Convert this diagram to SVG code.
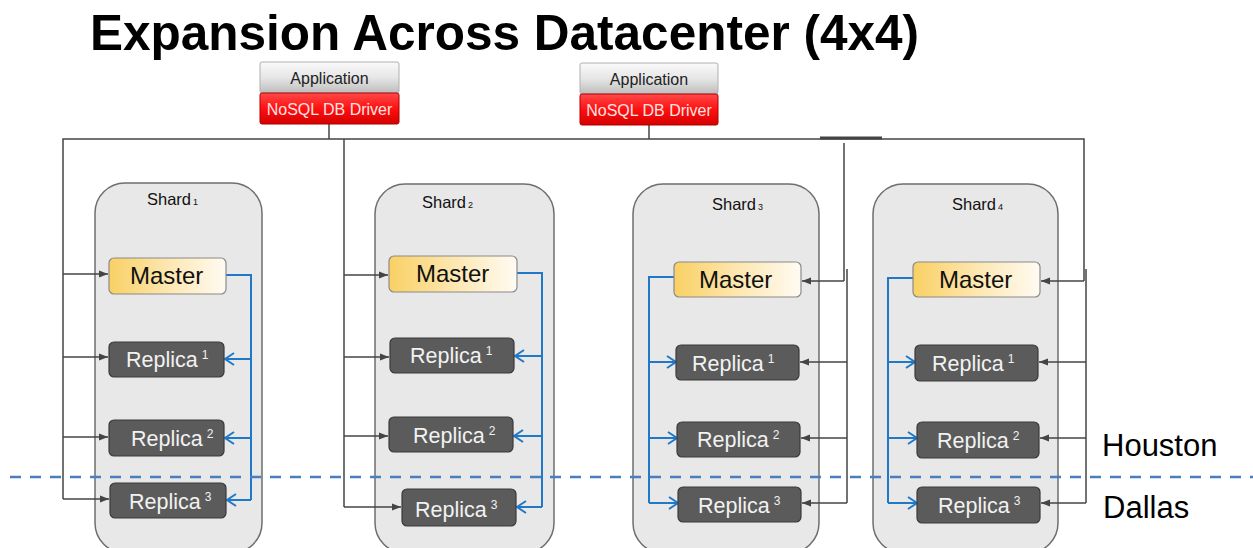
<svg xmlns="http://www.w3.org/2000/svg" width="1253" height="548" viewBox="0 0 1253 548">
<defs>
<linearGradient id="gApp" x1="0" y1="0" x2="0" y2="1">
<stop offset="0" stop-color="#fafafa"/><stop offset="0.5" stop-color="#e6e6e6"/><stop offset="1" stop-color="#bdbdbd"/>
</linearGradient>
<linearGradient id="gRed" x1="0" y1="0" x2="0" y2="1">
<stop offset="0" stop-color="#ff4a4a"/><stop offset="0.5" stop-color="#ff1010"/><stop offset="1" stop-color="#d40000"/>
</linearGradient>
<linearGradient id="gMaster" x1="0" y1="0" x2="1" y2="0">
<stop offset="0" stop-color="#f9d064"/><stop offset="0.5" stop-color="#fde7b0"/><stop offset="1" stop-color="#fffbf3"/>
</linearGradient>
<marker id="ag" markerUnits="userSpaceOnUse" markerWidth="10" markerHeight="10" viewBox="0 0 10 10" refX="9" refY="5" orient="auto">
<path d="M0,1.5 L9,5 L0,8.5 Z" fill="#444"/>
</marker>
<marker id="ab" markerUnits="userSpaceOnUse" markerWidth="14" markerHeight="16" viewBox="0 0 14 16" refX="12" refY="8" orient="auto">
<path d="M3,2 L12,8 L3,14" fill="none" stroke="#1f78c8" stroke-width="2"/>
</marker>
</defs>
<style>
.title{font-family:"Liberation Sans",Arial,sans-serif;font-weight:bold;font-size:49.5px;fill:#000}
.shardbox{fill:#e8e8e8;stroke:#6e6e6e;stroke-width:1.5}
.shardlbl{font-family:"Liberation Sans",Arial,sans-serif;font-size:16.5px;fill:#111}
.sub{font-size:9px}
.master{fill:url(#gMaster);stroke:#8a8a8a;stroke-width:1.2}
.mtext{font-family:"Liberation Sans",Arial,sans-serif;font-size:24px;fill:#111}
.replica{fill:#5b5b5b;stroke:#3a3a3a;stroke-width:1.2}
.rtext{font-family:"Liberation Sans",Arial,sans-serif;font-size:21.5px;fill:#f2f2f2}
.sup{font-size:12px}
.app{fill:url(#gApp);stroke:#b0b0b0;stroke-width:1}
.red{fill:url(#gRed);stroke:#b00000;stroke-width:1}
.atext{font-family:"Liberation Sans",Arial,sans-serif;font-size:16px;fill:#222;text-anchor:middle}
.dtext{font-family:"Liberation Sans",Arial,sans-serif;font-size:16px;fill:#ffe4e4;text-anchor:middle}
.gl{fill:none;stroke:#444;stroke-width:1.5}
.ga{fill:none;stroke:#444;stroke-width:1.5;marker-end:url(#ag)}
.bl{fill:none;stroke:#1f78c8;stroke-width:2}
.ba{fill:none;stroke:#1f78c8;stroke-width:2;marker-end:url(#ab)}
.city{font-family:"Liberation Sans",Arial,sans-serif;font-size:31px;fill:#000}
</style>
<rect width="1253" height="548" fill="#fff"/>
<text class="title" x="90" y="50">Expansion Across Datacenter (4x4)</text>

<g id="shard1">
<rect class="shardbox" x="95" y="183" width="167" height="370" rx="30"/>
<text class="shardlbl" x="147" y="205">Shard<tspan class="sub" dx="2">1</tspan></text>
</g>
<g id="shard2">
<rect class="shardbox" x="375" y="184" width="179" height="369" rx="30"/>
<text class="shardlbl" x="422" y="208">Shard<tspan class="sub" dx="2">2</tspan></text>
</g>
<g id="shard3">
<rect class="shardbox" x="633" y="184" width="186" height="369" rx="30"/>
<text class="shardlbl" x="712" y="210">Shard<tspan class="sub" dx="2">3</tspan></text>
</g>
<g id="shard4">
<rect class="shardbox" x="873" y="184" width="185" height="369" rx="30"/>
<text class="shardlbl" x="952" y="210">Shard<tspan class="sub" dx="2">4</tspan></text>
</g>

<g id="connectors">
<path class="gl" d="M63,499 V139 H1084 V281"/>
<path d="M820,138 H882" stroke="#444" stroke-width="3"/>
<path class="gl" d="M329,124 V139"/>
<path class="gl" d="M649,125 V139"/>
<path class="ga" d="M63,274 H108"/>
<path class="ga" d="M63,357 H108"/>
<path class="ga" d="M63,437 H108"/>
<path class="ga" d="M63,499 H109"/>
<path class="gl" d="M344,139 V507"/>
<path class="ga" d="M344,275 H388"/>
<path class="ga" d="M344,357 H389"/>
<path class="ga" d="M344,436 H388"/>
<path class="ga" d="M344,507 H401"/>
<path class="gl" d="M844,143 V281"/>
<path class="gl" d="M847,269 V503"/>
<path class="ga" d="M844,281 H802"/>
<path class="ga" d="M847,362 H800"/>
<path class="ga" d="M847,438 H801"/>
<path class="ga" d="M847,503 H802"/>
<path class="gl" d="M1086,269 V503"/>
<path class="ga" d="M1084,281 H1041"/>
<path class="ga" d="M1086,362 H1039"/>
<path class="ga" d="M1086,438 H1040"/>
<path class="ga" d="M1086,503 H1041"/>
<path class="bl" d="M226,275 H251 V500"/>
<path class="ba" d="M251,359 H225"/>
<path class="ba" d="M251,438 H225"/>
<path class="ba" d="M251,500 H227"/>
<path class="bl" d="M517,273 H542 V507"/>
<path class="ba" d="M542,356 H515"/>
<path class="ba" d="M542,436 H514"/>
<path class="ba" d="M542,507 H517"/>
<path class="bl" d="M674,277 H649 V503"/>
<path class="ba" d="M649,362 H676"/>
<path class="ba" d="M649,438 H677"/>
<path class="ba" d="M649,503 H678"/>
<path class="bl" d="M913,278 H888 V503"/>
<path class="ba" d="M888,362 H915"/>
<path class="ba" d="M888,438 H917"/>
<path class="ba" d="M888,503 H917"/>
</g>

<g id="app1">
<rect class="app" x="260" y="62" width="139" height="31" rx="2"/>
<rect class="red" x="260" y="93" width="139" height="31" rx="2"/>
<text class="atext" x="329.5" y="84">Application</text>
<text class="dtext" x="329.5" y="115">NoSQL DB Driver</text>
</g>
<g id="app2">
<rect class="app" x="580" y="63" width="138" height="31" rx="2"/>
<rect class="red" x="580" y="94" width="138" height="31" rx="2"/>
<text class="atext" x="649" y="85">Application</text>
<text class="dtext" x="649" y="116">NoSQL DB Driver</text>
</g>

<g id="s1-master"><rect class="master" x="109" y="258" width="117" height="36" rx="5"/><text class="mtext" x="130" y="284">Master</text></g>
<g id="s1-r1"><rect class="replica" x="109" y="342" width="115" height="35" rx="5"/><text class="rtext" x="126" y="367">Replica<tspan class="sup" dx="4" dy="-8">1</tspan></text></g>
<g id="s1-r2"><rect class="replica" x="109" y="420" width="115" height="36" rx="5"/><text class="rtext" x="131" y="446">Replica<tspan class="sup" dx="4" dy="-8">2</tspan></text></g>
<g id="s1-r3"><rect class="replica" x="110" y="483" width="116" height="35" rx="5"/><text class="rtext" x="129" y="509">Replica<tspan class="sup" dx="4" dy="-8">3</tspan></text></g>

<g id="s2-master"><rect class="master" x="389" y="256" width="128" height="36" rx="5"/><text class="mtext" x="416" y="282">Master</text></g>
<g id="s2-r1"><rect class="replica" x="390" y="338" width="124" height="35" rx="5"/><text class="rtext" x="410" y="363">Replica<tspan class="sup" dx="4" dy="-8">1</tspan></text></g>
<g id="s2-r2"><rect class="replica" x="389" y="417" width="124" height="35" rx="5"/><text class="rtext" x="413" y="443">Replica<tspan class="sup" dx="4" dy="-8">2</tspan></text></g>
<g id="s2-r3"><rect class="replica" x="402" y="489" width="114" height="37" rx="5"/><text class="rtext" x="415" y="517">Replica<tspan class="sup" dx="4" dy="-8">3</tspan></text></g>

<g id="s3-master"><rect class="master" x="674" y="262" width="127" height="35" rx="5"/><text class="mtext" x="699" y="288">Master</text></g>
<g id="s3-r1"><rect class="replica" x="676" y="345" width="123" height="35" rx="5"/><text class="rtext" x="692" y="371">Replica<tspan class="sup" dx="4" dy="-8">1</tspan></text></g>
<g id="s3-r2"><rect class="replica" x="677" y="422" width="123" height="35" rx="5"/><text class="rtext" x="697" y="447">Replica<tspan class="sup" dx="4" dy="-8">2</tspan></text></g>
<g id="s3-r3"><rect class="replica" x="678" y="487" width="123" height="35" rx="5"/><text class="rtext" x="698" y="513">Replica<tspan class="sup" dx="4" dy="-8">3</tspan></text></g>

<g id="s4-master"><rect class="master" x="913" y="262" width="127" height="35" rx="5"/><text class="mtext" x="939" y="288">Master</text></g>
<g id="s4-r1"><rect class="replica" x="915" y="345" width="123" height="36" rx="5"/><text class="rtext" x="932" y="371">Replica<tspan class="sup" dx="4" dy="-8">1</tspan></text></g>
<g id="s4-r2"><rect class="replica" x="917" y="422" width="122" height="36" rx="5"/><text class="rtext" x="937" y="448">Replica<tspan class="sup" dx="4" dy="-8">2</tspan></text></g>
<g id="s4-r3"><rect class="replica" x="917" y="487" width="123" height="36" rx="5"/><text class="rtext" x="938" y="513">Replica<tspan class="sup" dx="4" dy="-8">3</tspan></text></g>

<g id="datacenter-divider">
<path d="M10,477 H1253" stroke="#4a7ec2" stroke-width="2.5" stroke-dasharray="11,9"/>
<text class="city" x="1102" y="456">Houston</text>
<text class="city" x="1103" y="518">Dallas</text>
</g>
</svg>
